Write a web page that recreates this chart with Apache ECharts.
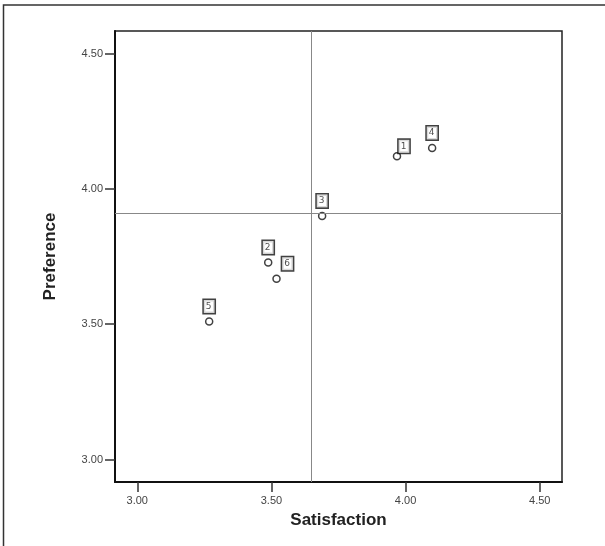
<!DOCTYPE html>
<html>
<head>
<meta charset="utf-8">
<script src="https://cdn.jsdelivr.net/npm/echarts@6/dist/echarts.min.js"></script>
<style>
  html, body { margin: 0; padding: 0; background: #fff; }
  #chart { width: 605px; height: 546px; }
</style>
</head>
<body>
<div id="chart"></div>
<script>
  // point labels and their values
  var pointIds = ['1', '2', '3', '4', '5', '6'];
  var satisfaction = [3.968, 3.488, 3.689, 4.099, 3.268, 3.519];
  var preference = [4.120, 3.728, 3.900, 4.151, 3.510, 3.668];
  var tickValues = [3.0, 3.5, 4.0, 4.5];
  // reference lines
  var refSatisfaction = 3.648;
  var refPreference = 3.910;

  // where each little label box sits relative to its point
  var labelOffsets = {
    '1': [7, -10],
    '6': [11, -15]
  };

  var points = pointIds.map(function (id, i) {
    var off = labelOffsets[id] || [0, -15];
    return {
      value: [satisfaction[i], preference[i]],
      name: id,
      label: { offset: off }
    };
  });

  var axisFont = {
    color: '#444',
    fontSize: 11,
    fontFamily: 'Liberation Sans, Arial, sans-serif'
  };
  var nameFont = {
    color: '#222',
    fontSize: 17,
    fontWeight: 'bold',
    fontFamily: 'Liberation Sans, Arial, sans-serif'
  };

  var chart = echarts.init(document.getElementById('chart'), null, { renderer: 'canvas' });
  chart.setOption({
    animation: false,
    backgroundColor: '#fff',
    graphic: [{
      type: 'rect',
      silent: true,
      shape: { x: 3.5, y: 5, width: 800, height: 800 },
      style: { fill: 'none', stroke: '#333', lineWidth: 1.5 }
    }],
    grid: {
      left: 115, right: 43, top: 31, bottom: 64,
      show: true,
      borderColor: '#222',
      borderWidth: 1.5,
      backgroundColor: 'transparent'
    },
    xAxis: {
      type: 'value',
      min: 2.917,
      max: 4.583,
      name: 'Satisfaction',
      nameLocation: 'middle',
      nameGap: 30,
      nameTextStyle: nameFont,
      axisLine: { show: true, onZero: false, lineStyle: { color: '#111', width: 2 } },
      axisTick: { show: true, length: 10, customValues: tickValues, lineStyle: { color: '#333', width: 1.5 } },
      axisLabel: Object.assign({
        customValues: tickValues,
        margin: 13,
        formatter: function (v) { return v.toFixed(2); }
      }, axisFont),
      splitLine: { show: false }
    },
    yAxis: {
      type: 'value',
      min: 2.917,
      max: 4.583,
      name: 'Preference',
      nameLocation: 'middle',
      nameGap: 56,
      nameRotate: 90,
      nameTextStyle: nameFont,
      axisLine: { show: true, onZero: false, lineStyle: { color: '#111', width: 2 } },
      axisTick: { show: true, length: 10, customValues: tickValues, lineStyle: { color: '#333', width: 1.5 } },
      axisLabel: Object.assign({
        customValues: tickValues,
        margin: 12,
        formatter: function (v) { return v.toFixed(2); }
      }, axisFont),
      splitLine: { show: false }
    },
    series: [{
      type: 'scatter',
      data: points,
      symbol: 'circle',
      symbolSize: 7,
      itemStyle: { color: '#fff', borderColor: '#111', borderWidth: 1.5 },
      label: {
        show: true,
        position: 'inside',
        formatter: '{b}',
        color: '#222',
        fontSize: 9,
        fontFamily: 'DejaVu Sans, sans-serif',
        borderColor: '#111',
        borderWidth: 1.5,
        backgroundColor: '#fff',
        padding: [2, 3, 2, 2]
      },
      markLine: {
        silent: true,
        symbol: 'none',
        label: { show: false },
        lineStyle: { color: '#888', width: 1, type: 'solid' },
        data: [
          { xAxis: refSatisfaction },
          { yAxis: refPreference }
        ]
      }
    }]
  });
</script>
</body>
</html>
